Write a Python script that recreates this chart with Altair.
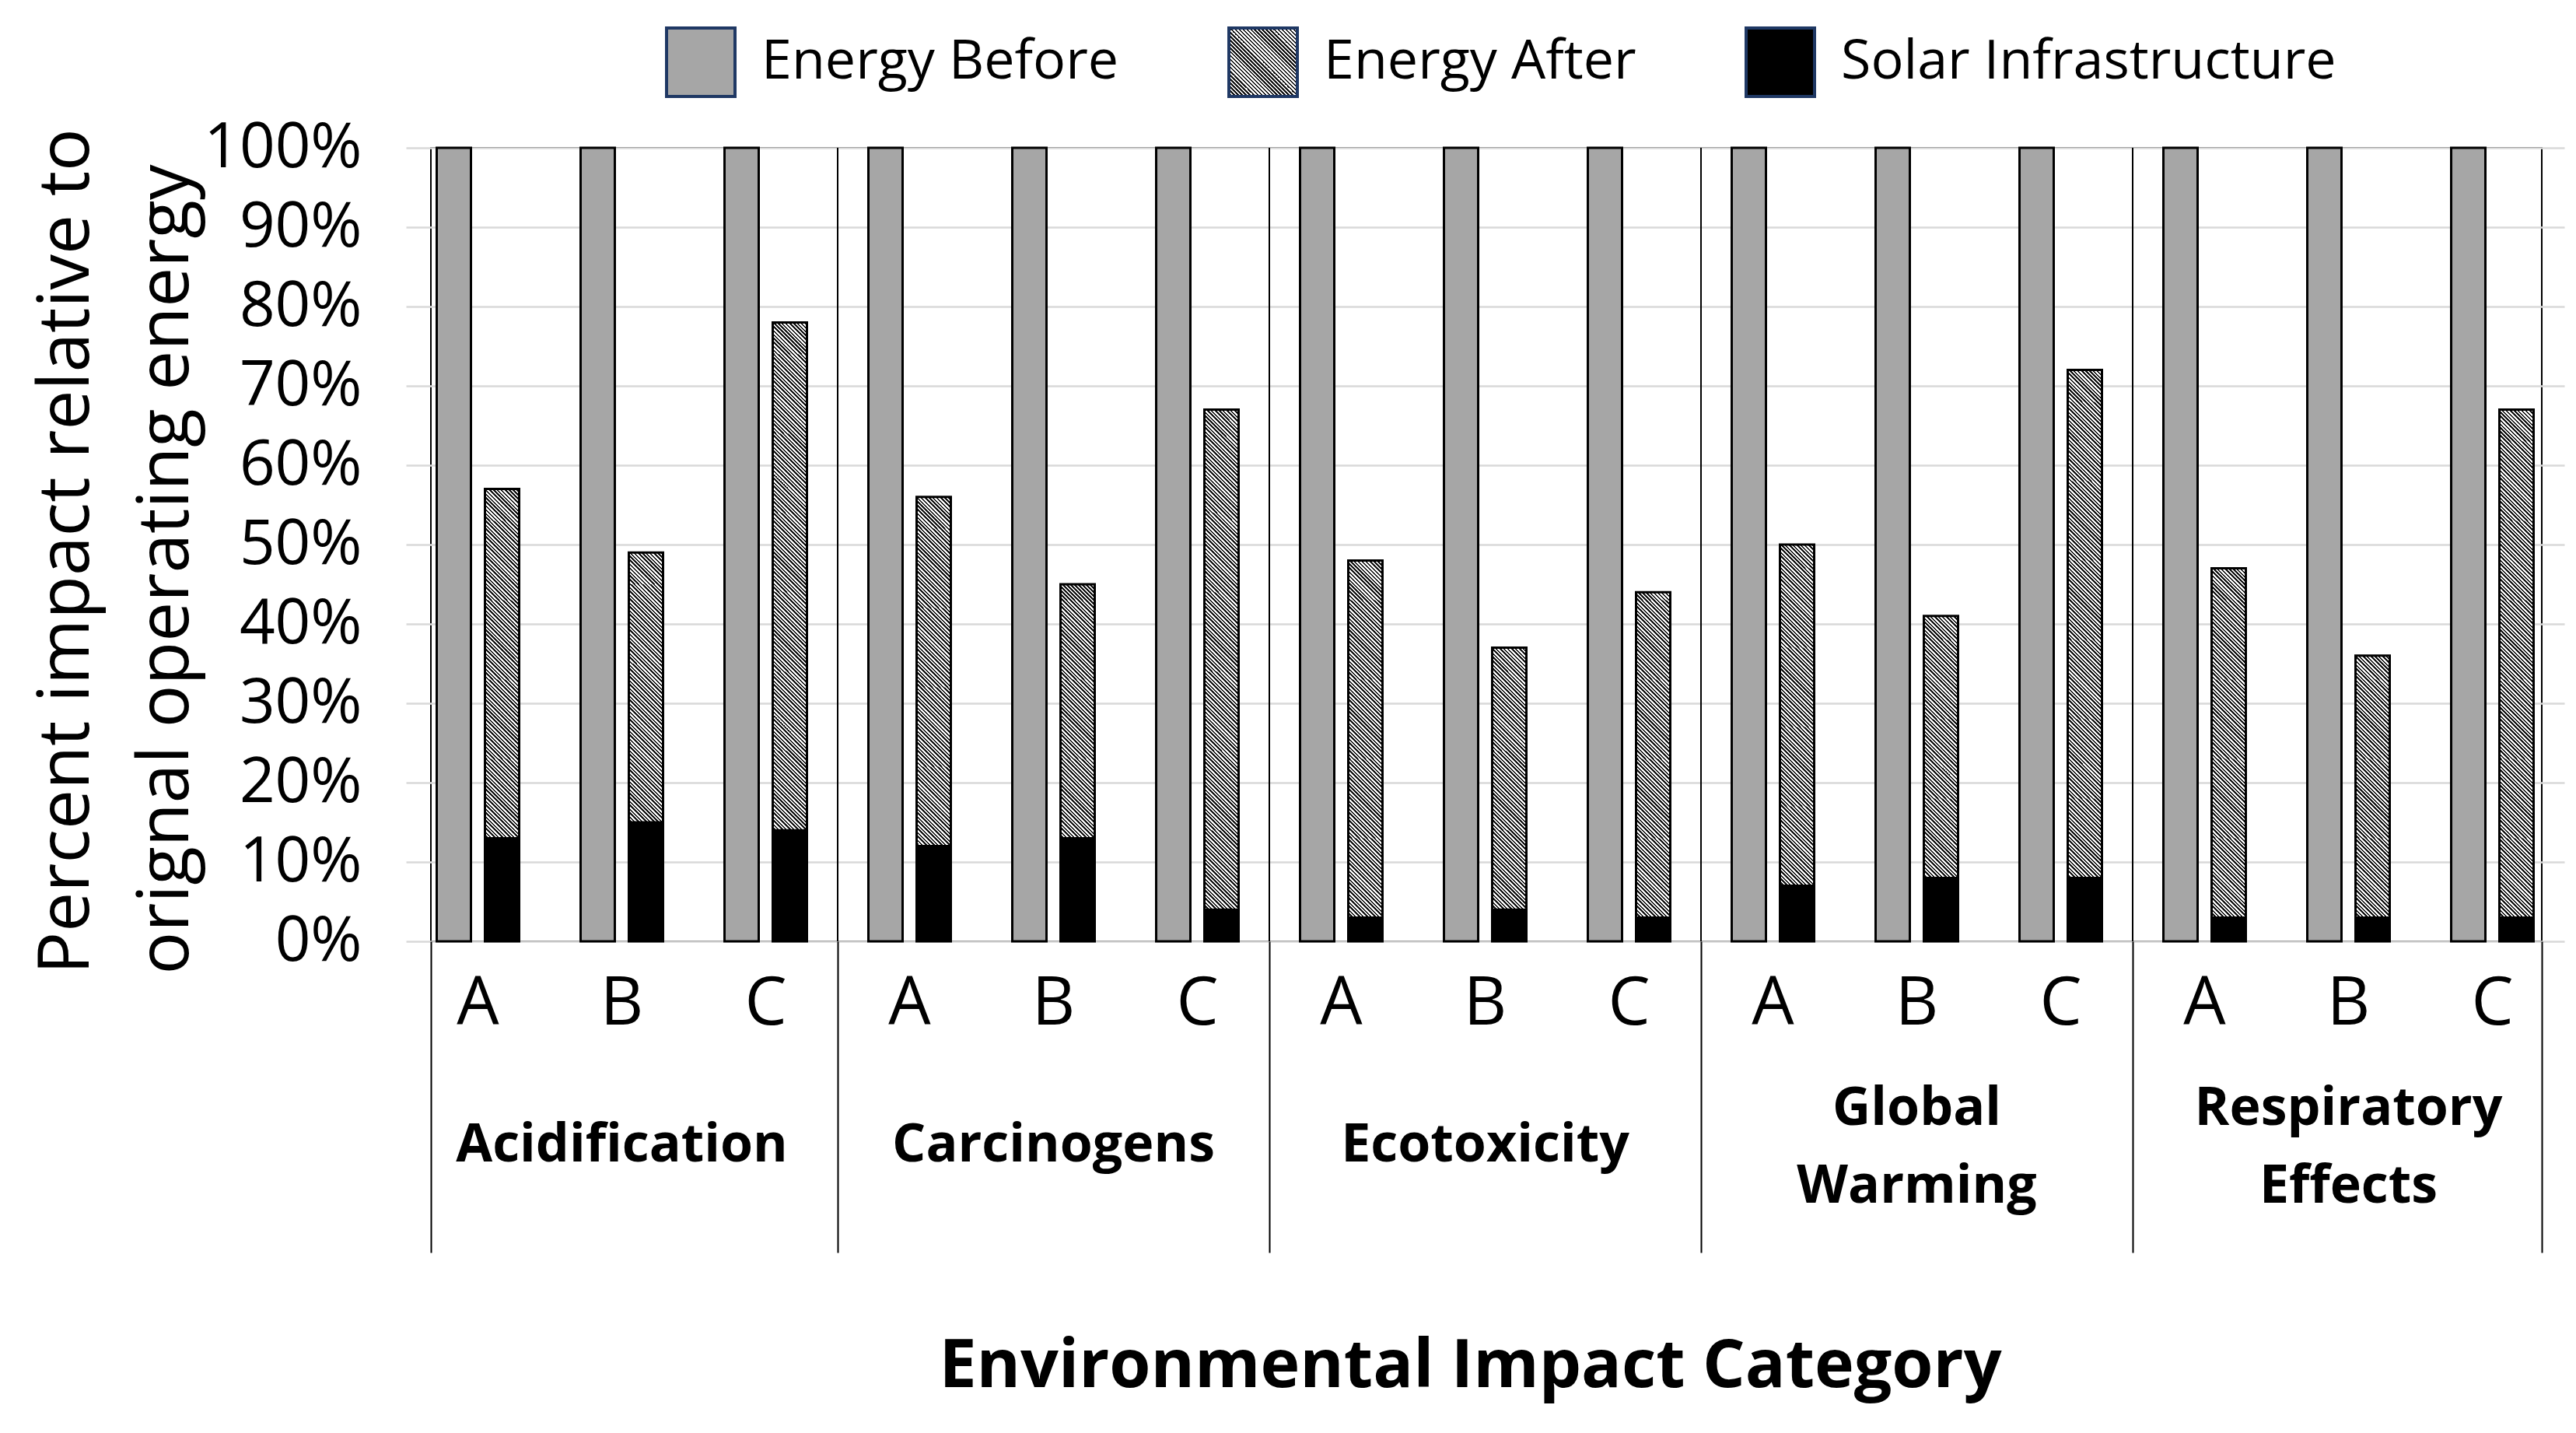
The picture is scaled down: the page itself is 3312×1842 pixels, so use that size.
import math
import altair as alt
import pandas as pd

# ---------------- data ----------------
categories = ["Acidification", "Carcinogens", "Ecotoxicity", "Global Warming", "Respiratory Effects"]
scenarios = ["A", "B", "C"]
series_names = ["Energy Before", "Energy After", "Solar Infrastructure"]
# percent of original operating energy, order: category x scenario (A, B, C)
energy_before = [100, 100, 100, 100, 100, 100, 100, 100, 100, 100, 100, 100, 100, 100, 100]
solar_infrastructure = [13, 15, 14, 12, 13, 4, 3, 4, 3, 7, 8, 8, 3, 3, 3]
energy_after = [44, 34, 64, 44, 32, 63, 45, 33, 41, 43, 33, 64, 44, 33, 64]
y_ticks = [0, 10, 20, 30, 40, 50, 60, 70, 80, 90, 100]
group_boundaries = [3, 6, 9, 12]  # in slot units (3 scenarios per category)

# ---------------- layout / style constants ----------------
W, H = 2714, 1020
SLOT_START, SLOT_STEP = -32, 185
X_RANGE = [SLOT_START, SLOT_START + 15 * SLOT_STEP]
BAR_W, GAP = 44, 18
PI = GAP / (BAR_W + GAP)
PO = (SLOT_STEP / (BAR_W + GAP) - 2 + PI) / 2
FONT = "Open Sans"
GRAY = "#a6a6a6"
NAVY = "#1f3864"
PERIOD, DARK_FRAC = 5.0, 0.5
DARK, LIGHT = "#111111", "#ffffff"
LEGEND_SYMBOL = 88
PIECE = 10.0      # hatch is painted in pieces of this many percent (keeps gradients short)
OVERLAP = 0.2     # small overlap between pieces to avoid seams


def hatch(h, w, y_top=0.0, gid=None):
    """diagonal '\\' stripes as a bounding-box linear gradient, phased on the plot grid"""
    r = h / w
    a = (1 + r) / (1 + r * r)
    span = w + h
    stops = []
    k = math.floor((-h - y_top) / PERIOD)
    while True:
        vals = [k * PERIOD, (k + DARK_FRAC) * PERIOD, (k + 1) * PERIOD]
        t0, t1, t2 = [min(max((v + y_top + h) / span, 0.0), 1.0) for v in vals]
        if t0 >= 1.0:
            break
        stops += [
            {"offset": round(t0, 5), "color": DARK},
            {"offset": round(t1, 5), "color": DARK},
            {"offset": round(t1, 5), "color": LIGHT},
            {"offset": round(t2, 5), "color": LIGHT},
        ]
        k += 1
    g = {"gradient": "linear", "x1": 0, "y1": 1,
         "x2": round(a, 6), "y2": round(1 - a * r, 6), "stops": stops}
    if gid:
        g["id"] = gid
    return g


rows = []
idx = 0
for c in categories:
    for s in scenarios:
        rows.append({"idx": idx, "category": c, "scenario": s, "slot": f"{c}|{s}",
                     "before": energy_before[idx], "solar": solar_infrastructure[idx],
                     "after": energy_after[idx]})
        idx += 1
df = pd.DataFrame(rows)
slots = list(df["slot"])

# pieces of each "Energy After" segment (each gets its own hatch gradient)
pieces = []
for i in range(len(slots)):
    lo = float(solar_infrastructure[i])
    top = float(solar_infrastructure[i] + energy_after[i])
    while lo < top - 1e-9:
        hi = min(lo + PIECE, top)
        hi_ext = min(hi + OVERLAP, top)
        pieces.append({"pid": len(pieces), "idx": i, "slot": slots[i], "pos": "after",
                       "lo": lo, "hi": hi_ext})
        lo = hi
pieces_df = pd.DataFrame(pieces)

X = alt.X("slot:N", sort=slots,
          scale=alt.Scale(type="band", domain=slots, range=X_RANGE, paddingInner=0, paddingOuter=0),
          axis=alt.Axis(orient="bottom", offset=0, title=None,
                        labelExpr="split(datum.label, '|')[1]",
                        labelFont=FONT, labelFontSize=86, labelColor="black",
                        labelPadding=80, labelBaseline="middle", labelAngle=0,
                        ticks=False, domain=False, grid=False, labelOverlap=False, labelLimit=2000))
XO = alt.XOffset("pos:N", sort=["before", "after"],
                 scale=alt.Scale(domain=["before", "after"], paddingInner=PI, paddingOuter=PO))
YS = alt.Scale(domain=[0, 100], nice=False, zero=True)
YAX = alt.Axis(values=y_ticks, labelExpr="datum.value + '%'",
               labelFont=FONT, labelFontSize=80, labelColor="black", labelPadding=89,
               labelLimit=2000, ticks=False, domain=False, grid=True,
               gridColor="#d9d9d9", gridWidth=2.5,
               title=["Percent impact relative to", "orignal operating energy"],
               titleFont=FONT, titleFontSize=91, titleFontWeight="normal", titleColor="black",
               titleAngle=270, titleAlign="left", titleBaseline="alphabetic",
               titleX=-441, titleY=1062, titleLineHeight=128, titleLimit=3000)


def cat_axis_layer(expr, pad, fill=None):
    mark = alt.Chart(pd.DataFrame({"category": categories}))
    mark = mark.mark_bar(opacity=0, fill=fill) if fill is not None else mark.mark_bar(opacity=0)
    return mark.encode(
        x=alt.X("category:N", sort=categories,
                scale=alt.Scale(type="band", domain=categories, range=X_RANGE,
                                paddingInner=0, paddingOuter=0),
                axis=alt.Axis(orient="bottom", offset=0, title=None, labelExpr=expr,
                              labelFont=FONT, labelFontSize=68, labelFontWeight="bold",
                              labelColor="black", labelPadding=pad, labelBaseline="middle",
                              labelLineHeight=100, labelAngle=0, ticks=False, domain=False,
                              grid=False, labelOverlap=False, labelLimit=2000)))


def build(use_pattern):
    if use_pattern:
        legend_grad = hatch(float(LEGEND_SYMBOL), float(LEGEND_SYMBOL), 0.0, gid="hatchlegend")
        after_color = "url(#hatchlegend)"
    else:
        legend_grad = None
        after_color = "#808080"
    FILL = alt.Fill("series:N",
                    scale=alt.Scale(domain=series_names, range=[GRAY, after_color, "#000000"]),
                    legend=alt.Legend(title=None, orient="none", legendX=301, legendY=-156,
                                      direction="horizontal", symbolType="square",
                                      symbolSize=LEGEND_SYMBOL ** 2, symbolStrokeColor=NAVY,
                                      symbolStrokeWidth=4, symbolOpacity=1, labelFont=FONT,
                                      labelFontSize=70, labelColor="black", labelOffset=32,
                                      columnPadding=133, labelLimit=2000, padding=0))

    base = alt.Chart(df)
    gray = base.transform_calculate(pos="'before'", series="'Energy Before'").mark_bar(
        stroke="black", strokeWidth=3).encode(
        x=X, xOffset=XO, y=alt.Y("before:Q", scale=YS, axis=YAX, stack=None), fill=FILL)
    solar = base.transform_calculate(pos="'after'", series="'Solar Infrastructure'").mark_bar(
        stroke="black", strokeWidth=3).encode(
        x=X, xOffset=XO, y=alt.Y("solar:Q", scale=YS, axis=YAX, stack=None), fill=FILL)

    hatched = []
    pbase = alt.Chart(pieces_df)
    for p in pieces:
        seg_h = (p["hi"] - p["lo"]) * H / 100.0
        y_top = (100.0 - p["hi"]) * H / 100.0
        hatched.append(
            pbase.transform_filter(alt.datum.pid == p["pid"])
            .mark_bar(fill=hatch(seg_h, float(BAR_W), y_top), strokeWidth=0)
            .encode(x=X, xOffset=XO,
                    y=alt.Y("lo:Q", scale=YS, axis=YAX, stack=None), y2="hi:Q"))
    outline = base.transform_calculate(pos="'after'", top="datum.solar + datum.after").mark_bar(
        fill="transparent", stroke="black", strokeWidth=3).encode(
        x=X, xOffset=XO, y=alt.Y("solar:Q", scale=YS, axis=YAX, stack=None), y2="top:Q")
    inner = alt.layer(gray, solar, *hatched, outline)

    lo_edge = -SLOT_START / SLOT_STEP
    hi_edge = (W - SLOT_START) / SLOT_STEP
    rules = alt.Chart(pd.DataFrame({"b": group_boundaries})).mark_rule(
        color="black", strokeWidth=2).encode(
        x=alt.X("b:Q", scale=alt.Scale(domain=[0, 15], range=X_RANGE, nice=False, zero=False),
                axis=alt.Axis(orient="bottom", offset=0,
                              values=[lo_edge] + group_boundaries + [hi_edge],
                              labels=False, ticks=True, tickSize=400, tickWidth=2,
                              tickColor="black", domain=False, grid=False,
                              title="Environmental Impact Category", titleFont=FONT,
                              titleFontSize=86, titleFontWeight="bold", titleColor="black",
                              titleX=1336, titleY=572, titleAlign="center",
                              titleBaseline="alphabetic", titleLimit=3000)))

    # single-line category names, and two-line ones (placed one half line higher);
    # the invisible bars of the first also carry the legend's hatch definition
    cats_one = cat_axis_layer("indexof(datum.label, ' ') > 0 ? '' : datum.label", 262,
                              fill=legend_grad)
    cats_two = cat_axis_layer("indexof(datum.label, ' ') > 0 ? split(datum.label, ' ') : ''", 215)

    chart = alt.layer(rules, inner, cats_one, cats_two).resolve_scale(x="independent").properties(
        width=W, height=H,
        autosize=alt.AutoSizeParams(type="none"),
        padding={"left": 546, "top": 182, "right": 36, "bottom": 624},
        background="white",
    ).configure_view(stroke="black", strokeWidth=2)
    return chart


chart = None
for variant in (True, False):
    try:
        c = build(variant)
        c.to_dict()
        chart = c
        break
    except Exception:
        continue

chart.save("out.html", embed_options={"renderer": "svg", "actions": False})
